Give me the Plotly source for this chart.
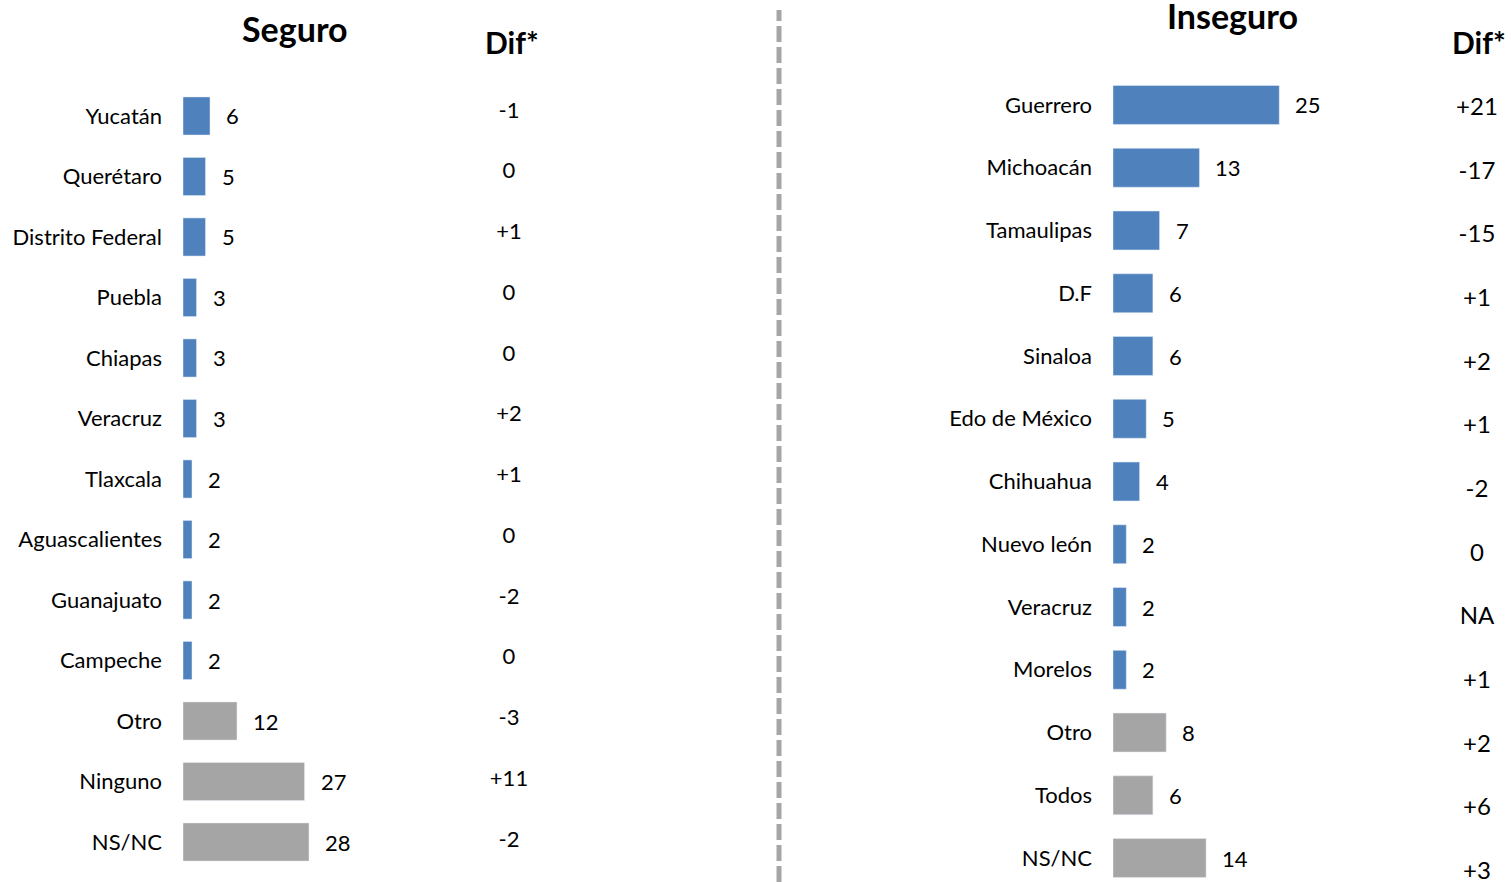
import plotly.graph_objects as go

W, H = 1511, 882

seg_cats = ["Yucatán", "Querétaro", "Distrito Federal", "Puebla", "Chiapas", "Veracruz",
            "Tlaxcala", "Aguascalientes", "Guanajuato", "Campeche", "Otro", "Ninguno", "NS/NC"]
seg_vals = [6, 5, 5, 3, 3, 3, 2, 2, 2, 2, 12, 27, 28]
seg_dif = ["-1", "0", "+1", "0", "0", "+2", "+1", "0", "-2", "0", "-3", "+11", "-2"]

ins_cats = ["Guerrero", "Michoacán", "Tamaulipas", "D.F", "Sinaloa", "Edo de México",
            "Chihuahua", "Nuevo león", "Veracruz", "Morelos", "Otro", "Todos", "NS/NC"]
ins_vals = [25, 13, 7, 6, 6, 5, 4, 2, 2, 2, 8, 6, 14]
ins_dif = ["+21", "-17", "-15", "+1", "+2", "+1", "-2", "0", "NA", "+1", "+2", "+6", "+3"]

BLUE = "#4F81BD"
GRAY = "#A5A5A5"
n_blue = 10
seg_colors = [BLUE] * n_blue + [GRAY] * (len(seg_cats) - n_blue)
ins_colors = [BLUE] * n_blue + [GRAY] * (len(ins_cats) - n_blue)

FONT = "Lato, Calibri, Carlito, sans-serif"
TXT = "#000000"

fig = go.Figure()

fig.add_trace(go.Bar(x=seg_vals, y=seg_cats, orientation="h", marker_color=seg_colors,
                     width=0.63, xaxis="x", yaxis="y", showlegend=False, hoverinfo="x+y"))
fig.add_trace(go.Bar(x=ins_vals, y=ins_cats, orientation="h", marker_color=ins_colors,
                     width=0.62, xaxis="x2", yaxis="y2", showlegend=False, hoverinfo="x+y"))
fig.add_trace(go.Scatter(x=[0] * len(seg_cats), y=seg_cats, text=seg_dif, mode="text",
                         textposition="middle center", textfont=dict(size=22, color=TXT, family=FONT),
                         xaxis="x3", yaxis="y3", showlegend=False, hoverinfo="skip"))
fig.add_trace(go.Scatter(x=[0] * len(ins_cats), y=ins_cats, text=ins_dif, mode="text",
                         textposition="middle center", textfont=dict(size=24, color=TXT, family=FONT),
                         xaxis="x4", yaxis="y4", showlegend=False, hoverinfo="skip"))

annotations = []
for c, v in zip(seg_cats, seg_vals):
    annotations.append(dict(x=v, y=c, xref="x", yref="y", text=str(v), showarrow=False,
                            xanchor="left", yanchor="middle", xshift=14,
                            font=dict(size=22, color=TXT, family=FONT)))
for c, v in zip(ins_cats, ins_vals):
    annotations.append(dict(x=v, y=c, xref="x2", yref="y2", text=str(v), showarrow=False,
                            xanchor="left", yanchor="middle", xshift=14,
                            font=dict(size=22, color=TXT, family=FONT)))

annotations += [
    dict(x=295 / W, y=1 - 28 / H, xref="paper", yref="paper", text="<b>Seguro</b>", showarrow=False,
         xanchor="center", yanchor="middle", font=dict(size=34, color=TXT, family=FONT)),
    dict(x=1232 / W, y=1 - 15 / H, xref="paper", yref="paper", text="<b>Inseguro</b>", showarrow=False,
         xanchor="center", yanchor="middle", font=dict(size=34, color=TXT, family=FONT)),
    dict(x=512 / W, y=1 - 42 / H, xref="paper", yref="paper", text="<b>Dif*</b>", showarrow=False,
         xanchor="center", yanchor="middle", font=dict(size=30, color=TXT, family=FONT)),
    dict(x=1479 / W, y=1 - 42 / H, xref="paper", yref="paper", text="<b>Dif*</b>", showarrow=False,
         xanchor="center", yanchor="middle", font=dict(size=30, color=TXT, family=FONT)),
]

hidden_x = dict(range=[-1, 1], visible=False, fixedrange=True)

fig.update_layout(
    width=W, height=H,
    margin=dict(l=0, r=0, t=0, b=0),
    paper_bgcolor="white", plot_bgcolor="rgba(0,0,0,0)",
    font=dict(family=FONT, color=TXT),
    annotations=annotations,
    xaxis=dict(domain=[183 / W, (183 + 4.5 * 30) / W], range=[0, 30], visible=False),
    yaxis=dict(domain=[0, 1], type="category", categoryarray=seg_cats, range=[12.661, -1.917],
               anchor="x", showgrid=False, zeroline=False, showline=False, ticks="",
               ticklabelstandoff=20, tickfont=dict(size=22, color=TXT, family=FONT)),
    xaxis2=dict(domain=[1113 / W, (1113 + 6.65 * 30) / W], range=[0, 30], visible=False, anchor="y2"),
    yaxis2=dict(domain=[0, 1], type="category", categoryarray=ins_cats, range=[12.382, -1.673],
                anchor="x2", showgrid=False, zeroline=False, showline=False, ticks="",
                ticklabelstandoff=20, tickfont=dict(size=22, color=TXT, family=FONT)),
    xaxis3=dict(domain=[(509 - 25) / W, (509 + 25) / W], anchor="y3", **hidden_x),
    yaxis3=dict(domain=[0, 1], type="category", categoryarray=seg_cats, range=[12.675, -1.844],
                anchor="x3", visible=False),
    xaxis4=dict(domain=[(1477 - 25) / W, (1477 + 25) / W], anchor="y4", **hidden_x),
    yaxis4=dict(domain=[0, 1], type="category", categoryarray=ins_cats, range=[12.141, -1.712],
                anchor="x4", visible=False),
    shapes=[dict(type="line", xref="paper", yref="paper", x0=779 / W, x1=779 / W, y0=0, y1=1 - 10 / H,
                 line=dict(color="#A6A6A6", width=5, dash="16px,5px"))],
)

fig.write_html("out.html", config={"displayModeBar": False},
               post_script="document.body.style.margin='0';document.body.style.overflow='hidden';")
